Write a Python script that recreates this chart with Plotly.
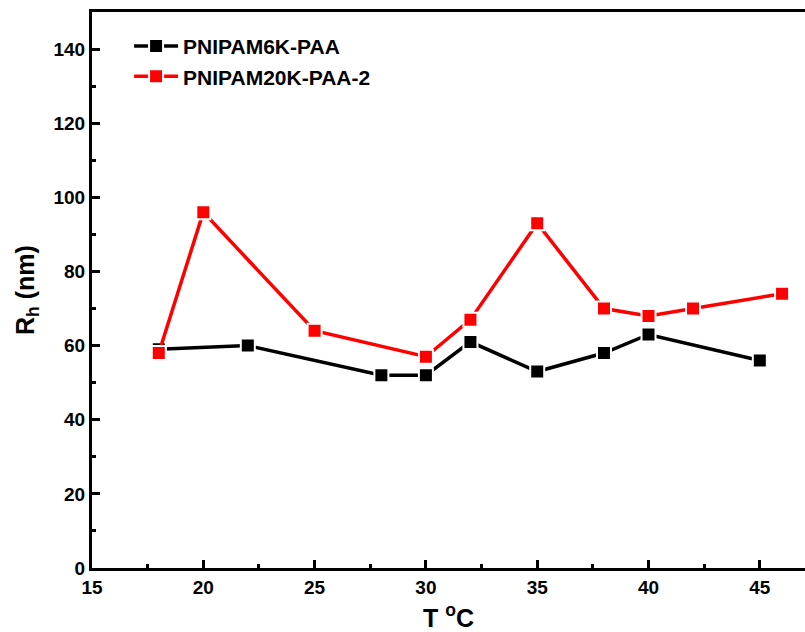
import plotly.graph_objects as go

# Hydrodynamic radius vs temperature
t_6k = [18, 22, 28, 30, 32, 35, 38, 40, 45]
rh_6k = [59, 60, 52, 52, 61, 53, 58, 63, 56]

t_20k = [18, 20, 25, 30, 32, 35, 38, 40, 42, 46]
rh_20k = [58, 96, 64, 57, 67, 93, 70, 68, 70, 74]

names = ["PNIPAM6K-PAA", "PNIPAM20K-PAA-2"]
colors = ["#000000", "#ff0000"]

FONT = "Liberation Sans, Arial, sans-serif"

fig = go.Figure()
for x, y, name, c in [(t_6k, rh_6k, names[0], colors[0]),
                      (t_20k, rh_20k, names[1], colors[1])]:
    fig.add_trace(go.Scatter(
        x=x, y=y, name=name, mode="lines+markers",
        line=dict(color=c, width=3.5),
        marker=dict(symbol="square", size=14, color=c,
                    line=dict(color="white", width=2)),
    ))

axis_common = dict(
    showgrid=False, zeroline=False,
    showline=True, linecolor="black", linewidth=3,
    ticks="inside", ticklen=8, tickwidth=3, tickcolor="black",
    tickfont=dict(family=FONT, size=19, color="black", weight="bold"),
)

fig.update_layout(
    width=805, height=632,
    margin=dict(l=92, r=0, t=12, b=64),
    plot_bgcolor="white", paper_bgcolor="white",
    showlegend=True,
    legend=dict(
        x=0.052, y=0.975, xanchor="left", yanchor="top",
        bgcolor="rgba(0,0,0,0)", itemwidth=44,
        font=dict(family=FONT, size=21, color="black", weight="bold"),
    ),
    xaxis=dict(
        range=[15, 47.03], tick0=15, dtick=5, mirror=True,
        minor=dict(ticks="inside", ticklen=4, tickwidth=3,
                   tickcolor="black", dtick=2.5),
        title=dict(text="T <sup>o</sup>C", standoff=17,
                   font=dict(family=FONT, size=25, color="black", weight="bold")),
        **axis_common,
    ),
    yaxis=dict(
        range=[0, 150], tick0=0, dtick=20, mirror=False,
        minor=dict(ticks="inside", ticklen=4, tickwidth=3,
                   tickcolor="black", dtick=10),
        title=dict(text="R<sub>h</sub> (nm)", standoff=12,
                   font=dict(family=FONT, size=25, color="black", weight="bold")),
        **axis_common,
    ),
)

fig.write_html("out.html")
